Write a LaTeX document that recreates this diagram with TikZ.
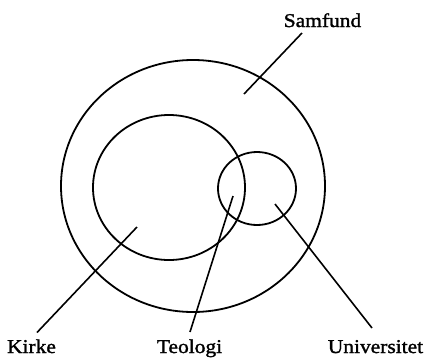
\documentclass[tikz,border=0pt]{standalone}
\usepackage{fontspec}
\setmainfont{Liberation Serif}[FakeStretch=1.1,FakeBold=1.5]
\usetikzlibrary{shapes.geometric,calc}
\begin{document}
\begin{tikzpicture}[x=1pt,y=-1pt,
  ring/.style={draw,ellipse,line width=1.8pt,inner sep=0pt,minimum width=#1},
  lbl/.style={font=\fontsize{19.5}{21}\selectfont,inner sep=0pt,anchor=base},
  lead/.style={line width=1.6pt}]
\useasboundingbox (0,0) rectangle (429,357);
\node[ring=264pt,minimum height=252pt] (samf) at (193,186) {};
\node[ring=152pt,minimum height=145pt] (kirk) at (169,187.5) {};
\node[ring=78pt,minimum height=73pt] (univ) at (257,188.5) {};
\coordinate (ps) at (244,94);
\coordinate (pk) at (137,227);
\coordinate (pt) at (233,196);
\coordinate (pu) at (275,204);
\node[lbl] (lsamf) at (322.5,27) {Samfund};
\node[lbl] (lkirk) at (31.5,353) {Kirke};
\node[lbl] (lteol) at (189.5,353) {Teologi};
\node[lbl] (luniv) at (375.5,353) {Universitet};
\draw[lead] (ps) -- ($(lsamf.base)+(-20.5,6)$);
\draw[lead] (pk) -- ($(lkirk.base)+(5.5,-20.5)$);
\draw[lead] (pt) -- ($(lteol.base)+(0.5,-21)$);
\draw[lead] (pu) -- ($(luniv.base)+(-3.5,-25)$);
\end{tikzpicture}
\end{document}
